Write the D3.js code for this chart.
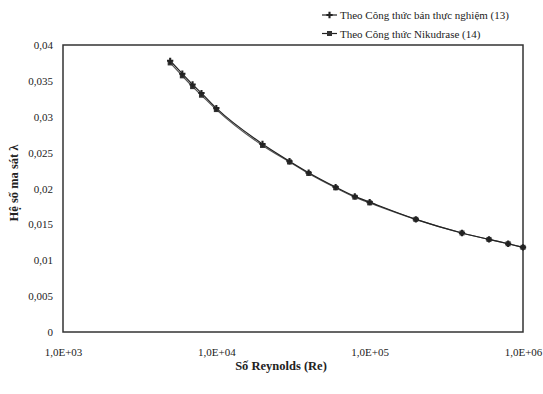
<!DOCTYPE html>
<html><head><meta charset="utf-8">
<script src="https://cdn.jsdelivr.net/npm/d3@7"></script>
<style>body{margin:0;background:#fff}svg{display:block}text{font-family:"Liberation Serif","Times New Roman",serif}</style>
</head><body><svg id="c" width="543" height="394"></svg>
<script>
const reynolds = [5000, 6000, 7000, 8000, 10000, 20000, 30000, 40000, 60000, 80000, 100000, 200000, 400000, 600000, 800000, 1000000];
const series13 = [0.0378, 0.0360, 0.0345, 0.0333, 0.0312, 0.0262, 0.0238, 0.0222, 0.0202, 0.0189, 0.0181, 0.0157, 0.0138, 0.0129, 0.0123, 0.0118];
const series14 = [0.0375, 0.0357, 0.0342, 0.0330, 0.0310, 0.0260, 0.0237, 0.0221, 0.0201, 0.0188, 0.0180, 0.0157, 0.0138, 0.0129, 0.0123, 0.0118];
const seriesNames = ["Theo Công thức bán thực nghiệm (13)", "Theo Công thức Nikudrase (14)"];
const xTicks = [1e3, 1e4, 1e5, 1e6];
const xTickLabels = ["1,0E+03", "1,0E+04", "1,0E+05", "1,0E+06"];
const yTicks = [0, 0.005, 0.01, 0.015, 0.02, 0.025, 0.03, 0.035, 0.04];
const yTickLabels = ["0", "0,005", "0,01", "0,015", "0,02", "0,025", "0,03", "0,035", "0,04"];

const svg = d3.select("#c");
const L = 63, R = 523, T = 45, B = 332;
const x = d3.scaleLog().domain([1e3, 1e6]).range([L, R]);
const y = d3.scaleLinear().domain([0, 0.04]).range([B, T]);
const ink = "#333";

// frame
svg.append("rect").attr("x", L).attr("y", T).attr("width", R - L).attr("height", B - T)
  .attr("fill", "none").attr("stroke", ink).attr("stroke-width", 1.5);

const xAxis = d3.axisBottom(x).tickValues(xTicks).tickSize(0).tickPadding(16)
  .tickFormat((d, i) => xTickLabels[i]);
const gx = svg.append("g").attr("transform", `translate(0,${B})`).call(xAxis);
gx.select(".domain").remove();
gx.selectAll("text").attr("font-size", 11).attr("fill", "#222")
  .style("font-family", '"Liberation Serif",serif');

const yAxis = d3.axisLeft(y).tickValues(yTicks).tickSize(0).tickPadding(10)
  .tickFormat((d, i) => yTickLabels[i]);
const gy = svg.append("g").attr("transform", `translate(${L},0)`).call(yAxis);
gy.select(".domain").remove();
gy.selectAll("text").attr("font-size", 11).attr("fill", "#222")
  .style("font-family", '"Liberation Serif",serif');

// titles
svg.append("text").attr("x", 281).attr("y", 370).attr("text-anchor", "middle")
  .attr("font-size", 12.5).attr("font-weight", "bold").attr("fill", "#222").text("Số Reynolds (Re)");
svg.append("text").attr("transform", "translate(18,183) rotate(-90)").attr("text-anchor", "middle")
  .attr("font-size", 12.5).attr("font-weight", "bold").attr("fill", "#222").text("Hệ số ma sát λ");

const line = d3.line().x(d => x(d[0])).y(d => y(d[1])).curve(d3.curveMonotoneX);
const d13 = reynolds.map((r, i) => [r, series13[i]]);
const d14 = reynolds.map((r, i) => [r, series14[i]]);

svg.append("path").datum(d14).attr("d", line).attr("fill", "none").attr("stroke", "#555").attr("stroke-width", 1.2);
svg.append("path").datum(d13).attr("d", line).attr("fill", "none").attr("stroke", "#222").attr("stroke-width", 1.2);

// squares for series 14
svg.selectAll(".sq").data(d14).enter().append("rect")
  .attr("x", d => x(d[0]) - 2.5).attr("y", d => y(d[1]) - 2.5).attr("width", 5).attr("height", 5)
  .attr("fill", "#333");
// crosses for series 13
const cross = d3.symbol().type(d3.symbolCross).size(22);
svg.selectAll(".cr").data(d13).enter().append("path")
  .attr("transform", d => `translate(${x(d[0])},${y(d[1])})`).attr("d", cross).attr("fill", "#222");

// legend
const lg = svg.append("g");
[0, 1].forEach(i => {
  const ly = 15 + i * 18.5;
  lg.append("line").attr("x1", 322).attr("x2", 337).attr("y1", ly).attr("y2", ly).attr("stroke", "#222").attr("stroke-width", 1.2);
  if (i === 0) lg.append("path").attr("transform", `translate(329.5,${ly})`).attr("d", cross).attr("fill", "#222");
  else lg.append("rect").attr("x", 327).attr("y", ly - 2.5).attr("width", 5).attr("height", 5).attr("fill", "#333");
  lg.append("text").attr("x", 340).attr("y", ly + 4).attr("font-size", 11).attr("fill", "#222").text(seriesNames[i]);
});
</script></body></html>
